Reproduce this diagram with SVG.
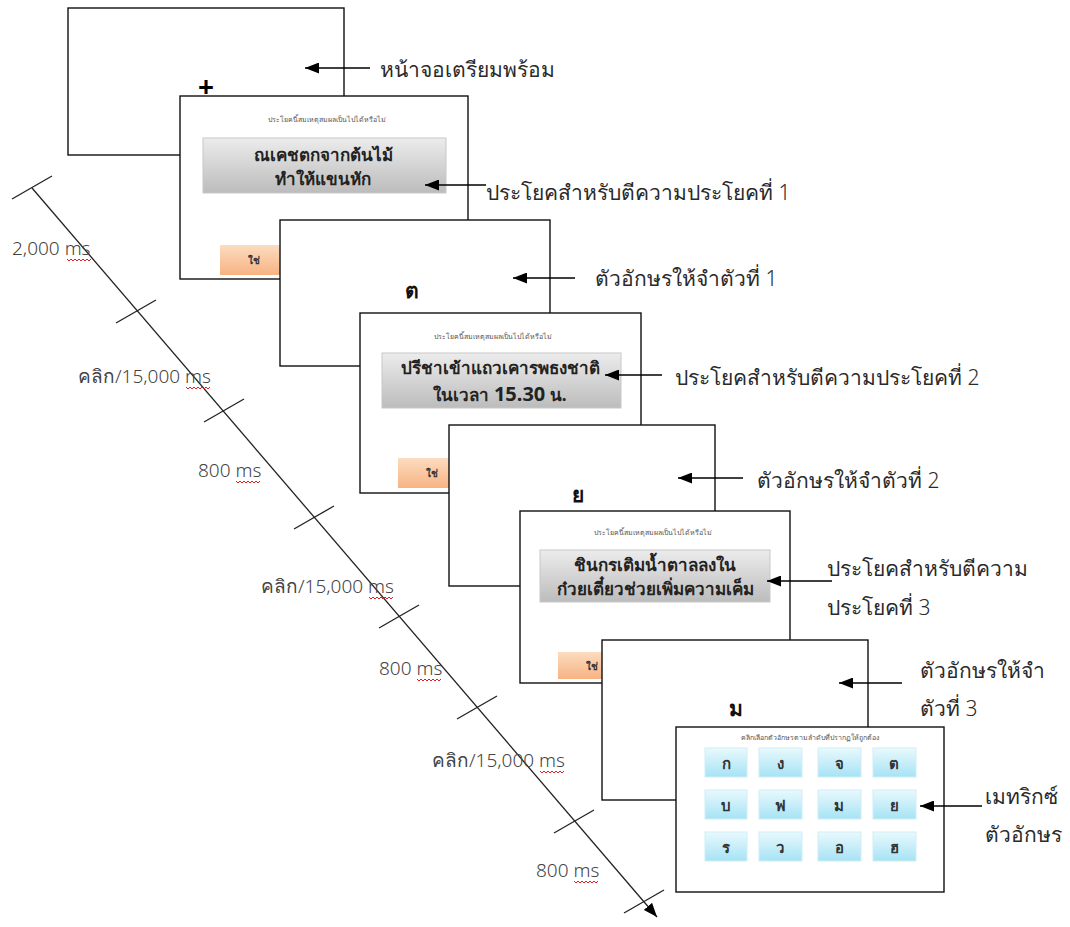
<svg xmlns="http://www.w3.org/2000/svg" width="1070" height="927" viewBox="0 0 1070 927">
<defs>
<marker id="ah" viewBox="0 0 14 11" refX="14" refY="5.5" markerWidth="14" markerHeight="11" markerUnits="userSpaceOnUse" orient="auto"><path d="M0,0 L14,5.5 L0,11 z" fill="#000"/></marker>
<linearGradient id="gray" x1="0" y1="0" x2="0" y2="1"><stop offset="0" stop-color="#ececec"/><stop offset="1" stop-color="#bcbcbc"/></linearGradient>
<linearGradient id="orange" x1="0" y1="0" x2="0" y2="1"><stop offset="0" stop-color="#fcdcc0"/><stop offset="1" stop-color="#f7b382"/></linearGradient>
<linearGradient id="cyan" x1="0" y1="0" x2="0" y2="1"><stop offset="0" stop-color="#e9f9fd"/><stop offset="1" stop-color="#a6e3f5"/></linearGradient>
</defs>
<style>
.scr{fill:#fff;stroke:#111;stroke-width:1.4}
.sbox{fill:url(#gray);stroke:#c8c8c8;stroke-width:1}
.btn{fill:url(#orange)}
.cell{fill:url(#cyan);stroke:#d0eef7;stroke-width:1}
.t{font-family:"Noto Sans","DejaVu Sans",sans-serif}
.lab{font-family:"Noto Sans","DejaVu Sans",sans-serif;font-size:21px;font-weight:300;fill:#2a2a2a}
.tl{font-family:"Noto Sans","DejaVu Sans",sans-serif;font-size:19px;font-weight:300;fill:#444}
.ttl{font-family:"Noto Sans","DejaVu Sans",sans-serif;font-size:7px;fill:#555;text-anchor:middle}
.sen{font-family:"Noto Sans","DejaVu Sans",sans-serif;font-size:17px;font-weight:bold;fill:#222;text-anchor:middle}
.yes{font-family:"Noto Sans","DejaVu Sans",sans-serif;font-size:10px;font-weight:bold;fill:#333}
.let{font-family:"Noto Sans","DejaVu Sans",sans-serif;font-size:21px;font-weight:bold;fill:#111;text-anchor:middle}
.ml{font-family:"Noto Sans","DejaVu Sans",sans-serif;font-size:15px;font-weight:bold;fill:#333;text-anchor:middle}
.ln{stroke:#000;stroke-width:1.5;fill:none}
.tk{stroke:#222;stroke-width:1.3;fill:none}
.wav{stroke:#d22;stroke-width:1;fill:none}
</style>

<g id="screen0">
<rect class="scr" x="68" y="8" width="276" height="147"/>
<text class="t" x="206" y="97" font-size="28" font-weight="bold" text-anchor="middle">+</text>
</g>

<g id="screen1">
<rect class="scr" x="180" y="96" width="288" height="183"/>
<text class="ttl" x="327" y="122">ประโยคนี้สมเหตุสมผลเป็นไปได้หรือไม่</text>
<rect class="sbox" x="203" y="138" width="243" height="55"/>
<text class="sen" x="323" y="161">ณเคชตกจากต้นไม้</text>
<text class="sen" x="323" y="185">ทำให้แขนหัก</text>
<rect class="btn" x="220" y="245" width="70" height="30"/>
<text class="yes" x="248" y="264">ใช่</text>
</g>

<g id="screen2">
<rect class="scr" x="280" y="220" width="270" height="146"/>
<text class="let" x="412" y="298">ต</text>
</g>

<g id="screen3">
<rect class="scr" x="360" y="313" width="281" height="180"/>
<text class="ttl" x="493" y="339">ประโยคนี้สมเหตุสมผลเป็นไปได้หรือไม่</text>
<rect class="sbox" x="382" y="353" width="239" height="55"/>
<text class="sen" x="500" y="374">ปรีชาเข้าแถวเคารพธงชาติ</text>
<text class="sen" x="500" y="401">ในเวลา <tspan font-size="20">15.30</tspan> น.</text>
<rect class="btn" x="398" y="458" width="70" height="30"/>
<text class="yes" x="426" y="477">ใช่</text>
</g>

<g id="screen4">
<rect class="scr" x="449" y="425" width="266" height="161"/>
<text class="let" x="578" y="502">ย</text>
</g>

<g id="screen5">
<rect class="scr" x="520" y="511" width="270" height="172"/>
<text class="ttl" x="653" y="535">ประโยคนี้สมเหตุสมผลเป็นไปได้หรือไม่</text>
<rect class="sbox" x="540" y="550" width="230" height="52"/>
<text class="sen" x="655" y="571">ชินกรเติมน้ำตาลลงใน</text>
<text class="sen" x="655" y="595">ก๋วยเตี๋ยวช่วยเพิ่มความเค็ม</text>
<rect class="btn" x="558" y="652" width="70" height="27"/>
<text class="yes" x="586" y="670">ใช่</text>
</g>

<g id="screen6">
<rect class="scr" x="602" y="640" width="266" height="160"/>
<text class="let" x="736" y="716">ม</text>
</g>

<g id="screen7">
<rect class="scr" x="676" y="727" width="268" height="165"/>
<text class="ttl" x="810" y="740">คลิกเลือกตัวอักษรตามลำดับที่ปรากฏให้ถูกต้อง</text>
<rect class="cell" x="705" y="748" width="42" height="29"/><text class="ml" x="726" y="769">ก</text>
<rect class="cell" x="759" y="748" width="43" height="29"/><text class="ml" x="780" y="769">ง</text>
<rect class="cell" x="818" y="748" width="43" height="29"/><text class="ml" x="839" y="769">จ</text>
<rect class="cell" x="873" y="748" width="43" height="29"/><text class="ml" x="894" y="769">ต</text>
<rect class="cell" x="705" y="790" width="42" height="29"/><text class="ml" x="726" y="811">บ</text>
<rect class="cell" x="759" y="790" width="43" height="29"/><text class="ml" x="780" y="811">ฟ</text>
<rect class="cell" x="818" y="790" width="43" height="29"/><text class="ml" x="839" y="811">ม</text>
<rect class="cell" x="873" y="790" width="43" height="29"/><text class="ml" x="894" y="811">ย</text>
<rect class="cell" x="705" y="832" width="42" height="29"/><text class="ml" x="726" y="853">ร</text>
<rect class="cell" x="759" y="832" width="43" height="29"/><text class="ml" x="780" y="853">ว</text>
<rect class="cell" x="818" y="832" width="43" height="29"/><text class="ml" x="839" y="853">อ</text>
<rect class="cell" x="873" y="832" width="43" height="29"/><text class="ml" x="894" y="853">ฮ</text>
</g>

<g id="connectors">
<line class="ln" x1="370" y1="68" x2="305" y2="68" marker-end="url(#ah)"/>
<line class="ln" x1="486" y1="185" x2="425" y2="185" marker-end="url(#ah)"/>
<line class="ln" x1="575" y1="278" x2="513" y2="278" marker-end="url(#ah)"/>
<line class="ln" x1="662" y1="375" x2="605" y2="375" marker-end="url(#ah)"/>
<line class="ln" x1="743" y1="478" x2="678" y2="478" marker-end="url(#ah)"/>
<line class="ln" x1="832" y1="581" x2="767" y2="581" marker-end="url(#ah)"/>
<line class="ln" x1="902" y1="683" x2="839" y2="683" marker-end="url(#ah)"/>
<line class="ln" x1="982" y1="806" x2="920" y2="806" marker-end="url(#ah)"/>
</g>

<g id="labels">
<text class="lab" x="380" y="77">หน้าจอเตรียมพร้อม</text>
<text class="lab" x="486" y="200">ประโยคสำหรับตีความประโยคที่ 1</text>
<text class="lab" x="595" y="286">ตัวอักษรให้จำตัวที่ 1</text>
<text class="lab" x="675" y="385">ประโยคสำหรับตีความประโยคที่ 2</text>
<text class="lab" x="757" y="488">ตัวอักษรให้จำตัวที่ 2</text>
<text class="lab" x="827" y="576">ประโยคสำหรับตีความ</text>
<text class="lab" x="827" y="615">ประโยคที่ 3</text>
<text class="lab" x="920" y="678">ตัวอักษรให้จำ</text>
<text class="lab" x="920" y="716">ตัวที่ 3</text>
<text class="lab" x="985" y="804">เมทริกซ์</text>
<text class="lab" x="985" y="842">ตัวอักษร</text>
</g>

<g id="timeline">
<line class="tk" x1="32" y1="188" x2="657" y2="917" marker-end="url(#ah)"/>
<line class="tk" x1="12" y1="199" x2="52" y2="176"/>
<line class="tk" x1="116" y1="323" x2="156" y2="300"/>
<line class="tk" x1="204" y1="422" x2="244" y2="399"/>
<line class="tk" x1="294" y1="529" x2="334" y2="506"/>
<line class="tk" x1="379" y1="628" x2="419" y2="605"/>
<line class="tk" x1="457" y1="719" x2="497" y2="696"/>
<line class="tk" x1="554" y1="833" x2="594" y2="810"/>
<line class="tk" x1="624" y1="913" x2="664" y2="890"/>
<text class="tl" x="12" y="255">2,000 ms</text>
<text class="tl" x="78" y="383">คลิก/15,000 ms</text>
<text class="tl" x="198" y="477">800 ms</text>
<text class="tl" x="261" y="593">คลิก/15,000 ms</text>
<text class="tl" x="379" y="675">800 ms</text>
<text class="tl" x="432" y="767">คลิก/15,000 ms</text>
<text class="tl" x="536" y="877">800 ms</text>
<path class="wav" d="M67,259 l2,2 l2,-2 l2,2 l2,-2 l2,2 l2,-2 l2,2 l2,-2 l2,2 l2,-2 l2,2 l2,-2"/>
<path class="wav" d="M186,387 l2,2 l2,-2 l2,2 l2,-2 l2,2 l2,-2 l2,2 l2,-2 l2,2 l2,-2 l2,2 l2,-2"/>
<path class="wav" d="M236,481 l2,2 l2,-2 l2,2 l2,-2 l2,2 l2,-2 l2,2 l2,-2 l2,2 l2,-2 l2,2 l2,-2"/>
<path class="wav" d="M369,597 l2,2 l2,-2 l2,2 l2,-2 l2,2 l2,-2 l2,2 l2,-2 l2,2 l2,-2 l2,2 l2,-2"/>
<path class="wav" d="M417,679 l2,2 l2,-2 l2,2 l2,-2 l2,2 l2,-2 l2,2 l2,-2 l2,2 l2,-2 l2,2 l2,-2"/>
<path class="wav" d="M540,771 l2,2 l2,-2 l2,2 l2,-2 l2,2 l2,-2 l2,2 l2,-2 l2,2 l2,-2 l2,2 l2,-2"/>
<path class="wav" d="M574,881 l2,2 l2,-2 l2,2 l2,-2 l2,2 l2,-2 l2,2 l2,-2 l2,2 l2,-2 l2,2 l2,-2"/>
</g>
</svg>
